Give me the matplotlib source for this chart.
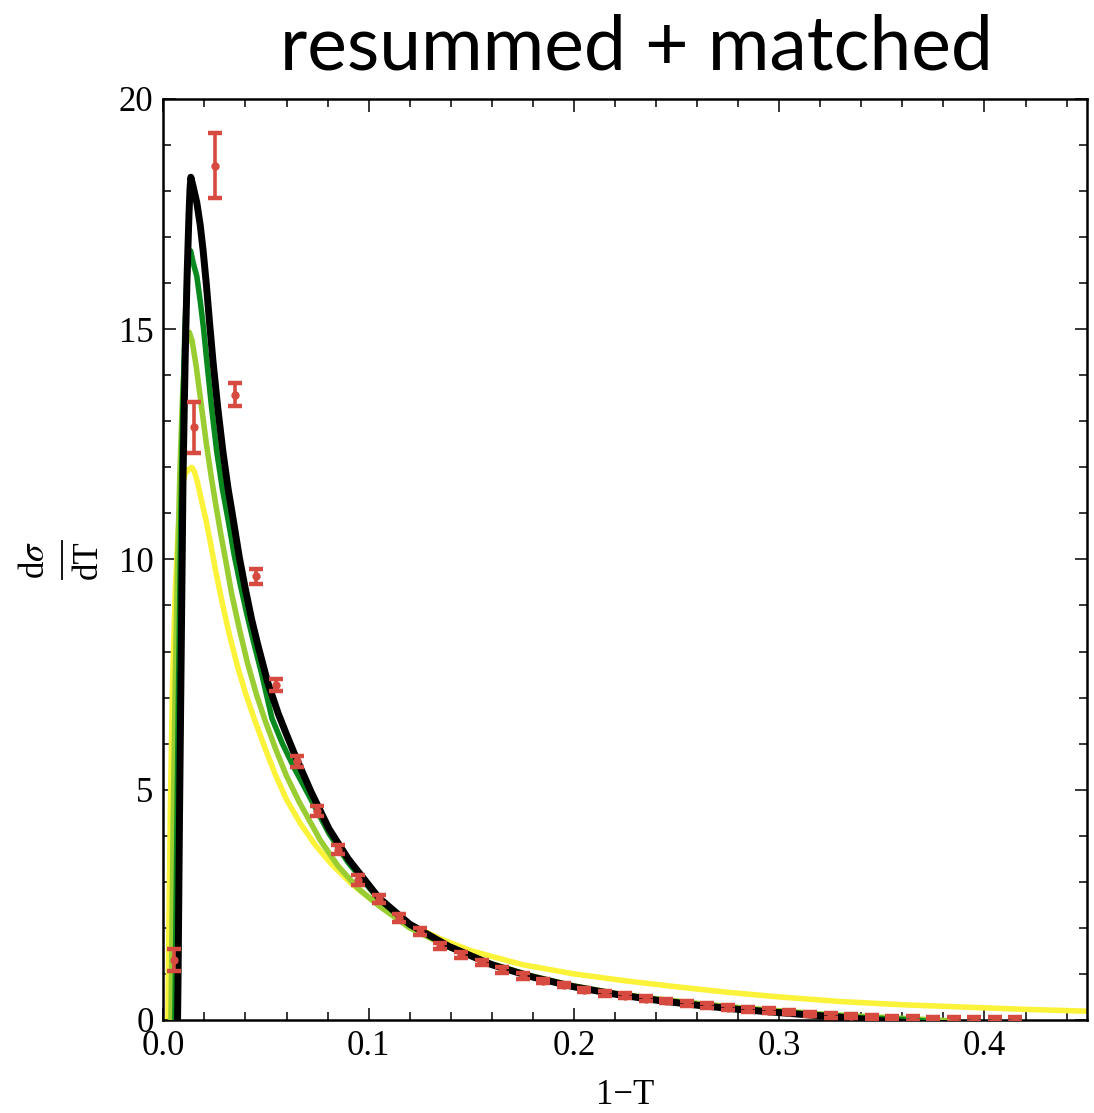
import matplotlib
matplotlib.use("Agg")
import matplotlib.pyplot as plt
from matplotlib.lines import Line2D
from matplotlib.ticker import MultipleLocator

plt.rcParams["font.family"] = ["Liberation Serif", "DejaVu Serif"]
plt.rcParams["mathtext.fontset"] = "stix"

# Measured thrust distribution (bin centres, values, errors)
data_x = [0.005, 0.015, 0.025, 0.035, 0.045, 0.055, 0.065, 0.075, 0.085, 0.095,
          0.105, 0.115, 0.125, 0.135, 0.145, 0.155, 0.165, 0.175, 0.185, 0.195,
          0.205, 0.215, 0.225, 0.235, 0.245, 0.255, 0.265, 0.275, 0.285, 0.295,
          0.305, 0.315, 0.325, 0.335, 0.345, 0.355, 0.365, 0.375, 0.385, 0.395,
          0.405, 0.415]
data_y = [1.30, 12.87, 18.55, 13.58, 9.63, 7.27, 5.62, 4.53, 3.70, 3.04,
          2.62, 2.21, 1.92, 1.61, 1.41, 1.25, 1.08, 0.96, 0.85, 0.76,
          0.65, 0.58, 0.53, 0.46, 0.41, 0.36, 0.32, 0.27, 0.23, 0.20,
          0.17, 0.13, 0.10, 0.085, 0.065, 0.04, 0.03, 0.02, 0.015, 0.01,
          0.01, 0.01]
data_err = [0.24, 0.55, 0.70, 0.25, 0.17, 0.13, 0.12, 0.11, 0.10, 0.10,
            0.09, 0.08, 0.08, 0.07, 0.07, 0.06, 0.06, 0.06, 0.05, 0.05,
            0.05, 0.05, 0.05, 0.05, 0.05, 0.05, 0.05, 0.05, 0.05, 0.05,
            0.05, 0.05, 0.05, 0.05, 0.05, 0.05, 0.05, 0.05, 0.05, 0.05,
            0.05, 0.05]

# Resummed + matched predictions
black_x = [0.0068, 0.0072, 0.0079, 0.0086, 0.0096, 0.0107, 0.0116, 0.0125, 0.0130,
           0.0134, 0.0145, 0.0163, 0.0180, 0.0194, 0.0210, 0.0226, 0.0242, 0.0265,
           0.0290, 0.0315, 0.0341, 0.0370, 0.0400, 0.0430, 0.0460, 0.0507, 0.0560,
           0.0600, 0.0646, 0.0720, 0.0807, 0.0900, 0.1050, 0.1200, 0.1390, 0.1600,
           0.1800, 0.2000, 0.2200, 0.2400, 0.2600, 0.2800, 0.3000, 0.3200, 0.3350,
           0.3450, 0.3600]
black_y = [-0.5, 1.0, 4.5, 7.5, 11.8, 14.5, 16.2, 17.5, 18.05,
           18.3, 18.1, 17.75, 17.25, 16.7, 15.95, 15.1, 14.3, 13.3,
           12.35, 11.55, 10.85, 10.05, 9.35, 8.7, 8.15, 7.35, 6.65,
           6.2, 5.7, 4.95, 4.15, 3.5, 2.65, 2.08, 1.6, 1.2,
           0.93, 0.72, 0.56, 0.43, 0.32, 0.23, 0.16, 0.09, 0.04,
           0.0, -0.05]

green_x = [0.0055, 0.0060, 0.0067, 0.0075, 0.0085, 0.0095, 0.0105, 0.0115, 0.0125,
           0.0133, 0.0145, 0.0163, 0.0180, 0.0195, 0.0212, 0.0235, 0.0260, 0.0287,
           0.0316, 0.0345, 0.0375, 0.0405, 0.0440, 0.0480, 0.0529, 0.0580, 0.0640,
           0.0700, 0.0807, 0.0900, 0.1050, 0.1200, 0.1390, 0.1600, 0.1800, 0.2000,
           0.2200, 0.2400, 0.2600, 0.2800, 0.3000, 0.3200, 0.3400, 0.3600, 0.3700]
green_y = [-0.5, 1.5, 4.5, 7.5, 10.8, 13.3, 15.0, 16.1, 16.6,
           16.7, 16.45, 16.15, 15.6, 15.05, 14.3, 13.3, 12.35, 11.55,
           10.85, 10.1, 9.45, 8.85, 8.2, 7.5, 6.55, 6.0, 5.45,
           4.95, 4.05, 3.42, 2.62, 2.06, 1.59, 1.2, 0.93, 0.72,
           0.56, 0.44, 0.33, 0.24, 0.17, 0.11, 0.05, 0.01, -0.02]

lgreen_x = [0.0036, 0.0041, 0.0049, 0.0058, 0.0068, 0.0080, 0.0093, 0.0106, 0.0118,
            0.0127, 0.0140, 0.0160, 0.0185, 0.0210, 0.0235, 0.0257, 0.0280, 0.0305,
            0.0333, 0.0370, 0.0410, 0.0455, 0.0496, 0.0550, 0.0600, 0.0660, 0.0765,
            0.0850, 0.0950, 0.1050, 0.1200, 0.1390, 0.1600, 0.1800, 0.2000, 0.2200,
            0.2400, 0.2600, 0.2800, 0.3000, 0.3200, 0.3400, 0.3600, 0.3750, 0.3850]
lgreen_y = [-0.5, 1.5, 4.5, 7.3, 9.6, 11.8, 13.5, 14.5, 14.85,
            14.93, 14.75, 14.2, 13.35, 12.5, 11.75, 11.15, 10.55, 9.95,
            9.25, 8.5, 7.75, 7.05, 6.5, 5.85, 5.3, 4.75, 3.9,
            3.35, 2.85, 2.48, 2.0, 1.58, 1.22, 0.95, 0.74, 0.58,
            0.46, 0.36, 0.27, 0.2, 0.13, 0.08, 0.035, 0.0, -0.02]

yellow_x = [0.0021, 0.0026, 0.0034, 0.0045, 0.0058, 0.0072, 0.0088, 0.0105, 0.0122,
            0.0138, 0.0150, 0.0165, 0.0185, 0.0208, 0.0228, 0.0255, 0.0285, 0.0320,
            0.0360, 0.0400, 0.0446, 0.0500, 0.0550, 0.0602, 0.0670, 0.0740, 0.0820,
            0.0914, 0.1000, 0.1100, 0.1200, 0.1350, 0.1500, 0.1750, 0.2000, 0.2250,
            0.2500, 0.2750, 0.3000, 0.3300, 0.3600, 0.3900, 0.4200, 0.4500]
yellow_y = [-0.5, 1.5, 4.5, 7.3, 9.3, 10.6, 11.5, 11.85, 11.95,
            12.0, 11.92, 11.7, 11.3, 10.85, 10.4, 9.75, 9.1, 8.4,
            7.7, 7.1, 6.5, 5.85, 5.28, 4.77, 4.25, 3.8, 3.38,
            2.97, 2.66, 2.35, 2.08, 1.76, 1.5, 1.2, 1.0, 0.85,
            0.72, 0.6, 0.5, 0.4, 0.33, 0.28, 0.23, 0.19]

x_ticks = [0.0, 0.1, 0.2, 0.3, 0.4]
x_ticklabels = ["0.0", "0.1", "0.2", "0.3", "0.4"]
y_ticks = [0, 5, 10, 15, 20]
y_ticklabels = ["0", "5", "10", "15", "20"]

fig = plt.figure(figsize=(10.94, 11.13), dpi=100)
ax = fig.add_axes([0.1493, 0.0836, 0.8444, 0.8275])

ax.plot(yellow_x, yellow_y, color="#fbf23a", lw=4.0, solid_joinstyle="round", zorder=2)
ax.plot(lgreen_x, lgreen_y, color="#9acd32", lw=4.0, solid_joinstyle="round", zorder=3)
ax.plot(green_x, green_y, color="#0a8a1e", lw=4.0, solid_joinstyle="round", zorder=4)
ax.plot(black_x, black_y, color="black", lw=5.0, solid_joinstyle="round", zorder=5)

ax.errorbar(data_x, data_y, yerr=data_err, fmt="o", color="#d64a40", ms=5,
            elinewidth=2.6, capsize=5.0, capthick=3.2, zorder=6)

ax.set_xlim(0, 0.45)
ax.set_ylim(0, 20)
ax.set_xticks(x_ticks)
ax.set_xticklabels(x_ticklabels)
ax.set_yticks(y_ticks)
ax.set_yticklabels(y_ticklabels)
ax.xaxis.set_minor_locator(MultipleLocator(0.02))
ax.yaxis.set_minor_locator(MultipleLocator(1))
ax.tick_params(which="both", direction="in", top=True, right=True,
               labelsize=25, width=1.1, pad=7)
ax.tick_params(which="major", length=9)
ax.tick_params(which="minor", length=5.5)
for s in ax.spines.values():
    s.set_linewidth(1.8)

ax.set_xlabel("1\u2212T", fontsize=25, labelpad=12)

# y-axis label drawn as a rotated fraction dσ / dT
ylab_y = 1 - 560 / 1113
fig.text(35 / 1094, ylab_y, r"d$\sigma$", rotation=90, ha="center", va="center",
         fontsize=25)
fig.add_artist(Line2D([62 / 1094, 62 / 1094], [ylab_y - 19 / 1113, ylab_y + 19 / 1113],
                      transform=fig.transFigure, color="black", lw=1.3))
fig.text(88 / 1094, ylab_y, "dT", rotation=90, ha="center", va="center",
         fontsize=25)

fig.text(0.582, 0.957, "resummed + matched", ha="center", va="center",
         fontsize=54, family=["Lato", "DejaVu Sans"])

fig.savefig("out.png", dpi=100)
